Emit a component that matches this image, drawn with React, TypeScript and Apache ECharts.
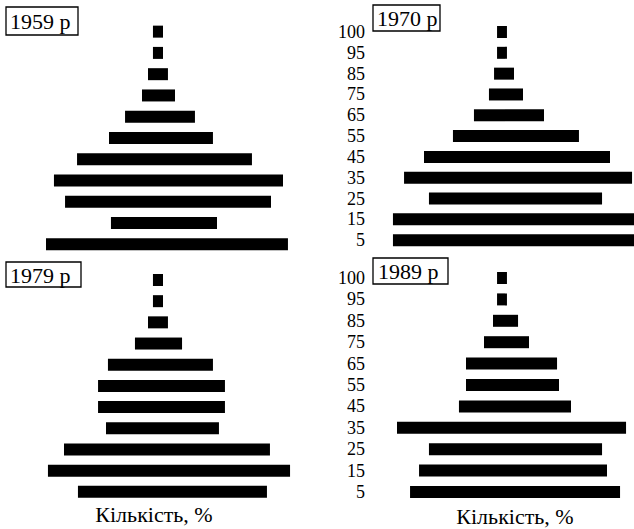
import React, { useEffect, useRef } from "react";
import * as echarts from "echarts";

// Age groups, bottom to top
const ages = ["5", "15", "25", "35", "45", "55", "65", "75", "85", "95", "100"];

// Bar half-lengths (Кількість, %) to the left and right of the pyramid axis
const left1959 = [7.6, 3.27, 6.33, 7.07, 5.53, 3.4, 2.33, 1.2, 0.8, 0.47, 0.47];
const right1959 = [8.53, 3.8, 7.4, 8.2, 6.13, 3.53, 2.33, 1.0, 0.53, 0.2, 0.2];

const left1970 = [7.47, 7.47, 5.07, 6.73, 5.4, 3.47, 2.07, 1.07, 0.73, 0.53, 0.53];
const right1970 = [8.8, 8.8, 6.47, 8.47, 7.0, 4.93, 2.6, 1.2, 0.6, 0.13, 0.13];

const left1979 = [5.47, 7.47, 6.4, 3.6, 4.13, 4.13, 3.47, 1.67, 0.8, 0.47, 0.47];
const right1979 = [7.13, 8.67, 7.33, 3.93, 4.33, 4.33, 3.53, 1.47, 0.53, 0.2, 0.2];

const left1989 = [6.33, 5.73, 5.07, 7.2, 3.07, 2.6, 2.6, 1.4, 0.8, 0.53, 0.53];
const right1989 = [7.67, 6.8, 6.47, 8.07, 4.4, 3.6, 3.47, 1.6, 0.87, 0.13, 0.13];

const years = ["1959 р", "1970 р", "1979 р", "1989 р"];
const xTitle = "Кількість, %";

const FONT = '"Liberation Serif", "Times New Roman", serif';

export default function App() {
  const ref = useRef<HTMLDivElement>(null);

  useEffect(() => {
    if (!ref.current) return;
    const chart = echarts.init(ref.current, null, { renderer: "svg" });

    const panels = [
      { left: left1959, right: right1959, grid: { left: 10, top: 21, width: 300, height: 234 }, min: -10, max: 10, labels: false },
      { left: left1970, right: right1970, grid: { left: 370, top: 21.6, width: 264, height: 229 }, min: -9, max: 8.6, labels: true },
      { left: left1979, right: right1979, grid: { left: 10, top: 269.4, width: 300, height: 233 }, min: -10, max: 10, labels: false },
      { left: left1989, right: right1989, grid: { left: 370, top: 267.3, width: 264, height: 235.4 }, min: -9, max: 8.6, labels: true },
    ];

    const grid = panels.map((p) => ({ ...p.grid, containLabel: false }));
    const xAxis = panels.map((p, i) => ({
      type: "value",
      gridIndex: i,
      min: p.min,
      max: p.max,
      show: false,
    }));
    const yAxis = panels.map((p, i) => ({
      type: "category",
      gridIndex: i,
      data: ages,
      axisLine: { show: false },
      axisTick: { show: false },
      splitLine: { show: false },
      axisLabel: {
        show: p.labels,
        interval: 0,
        color: "#000",
        fontFamily: FONT,
        fontSize: 18,
        margin: 5,
      },
    }));
    const series: any[] = [];
    panels.forEach((p, i) => {
      series.push({
        type: "bar",
        xAxisIndex: i,
        yAxisIndex: i,
        stack: "s" + i,
        barWidth: 12,
        itemStyle: { color: "#000" },
        data: p.left.map((v) => -v),
      });
      series.push({
        type: "bar",
        xAxisIndex: i,
        yAxisIndex: i,
        stack: "s" + i,
        barWidth: 12,
        itemStyle: { color: "#000" },
        data: p.right,
      });
    });

    const boxes = [
      { rect: [6, 7, 72, 28], tx: 10, ty: 21 },
      { rect: [373, 5, 67, 26], tx: 377, ty: 18 },
      { rect: [6, 262, 75, 25], tx: 10, ty: 275 },
      { rect: [373, 258, 75, 26], tx: 378, ty: 271 },
    ];
    const graphic: any[] = [];
    boxes.forEach((b, i) => {
      graphic.push({
        type: "rect",
        shape: { x: b.rect[0], y: b.rect[1], width: b.rect[2], height: b.rect[3] },
        style: { fill: "#fff", stroke: "#000", lineWidth: 1.3 },
        z: 10,
      });
      graphic.push({
        type: "text",
        x: b.tx,
        y: b.ty,
        style: { text: years[i], fill: "#000", font: `22px ${FONT}`, verticalAlign: "middle" },
        z: 11,
      });
    });
    graphic.push({
      type: "text",
      x: 154,
      y: 514,
      style: { text: xTitle, fill: "#000", font: `22px ${FONT}`, align: "center", verticalAlign: "middle" },
    });
    graphic.push({
      type: "text",
      x: 515,
      y: 516,
      style: { text: xTitle, fill: "#000", font: `22px ${FONT}`, align: "center", verticalAlign: "middle" },
    });

    chart.setOption({
      animation: false,
      backgroundColor: "#fff",
      grid,
      xAxis,
      yAxis,
      series,
      graphic,
    });

    return () => chart.dispose();
  }, []);

  return (
    <div
      ref={ref}
      style={{ position: "absolute", left: 0, top: 0, width: 634, height: 529 }}
    />
  );
}
